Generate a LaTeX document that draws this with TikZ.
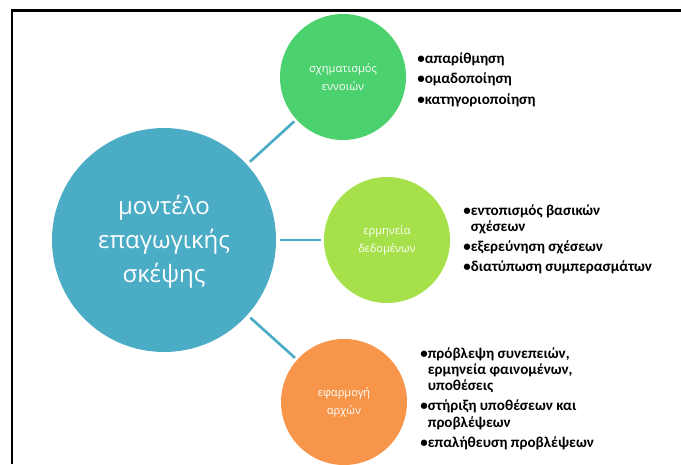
\documentclass[tikz,border=0pt]{standalone}
\usepackage{fontspec}
\setmainfont{Carlito}
\newfontfamily\circfont{Open Sans}
\begin{document}
\begin{tikzpicture}[x=.75pt,y=-.75pt,hub/.style={circle,fill=aqua,minimum size=168pt,inner sep=0pt,text=white,align=center,font=\circfont\fontsize{18}{25.5}\selectfont},leaf/.style={circle,minimum size=94.5pt,inner sep=0pt,text=white,align=center,font=\circfont\fontsize{8.3}{13.5}\selectfont},items/.style={anchor=north west,align=left,inner sep=0pt,font=\bfseries\fontsize{11.3}{12.2}\selectfont},link/.style={aqua,line width=2pt,shorten <=3pt,shorten >=2pt}]
\definecolor{aqua}{HTML}{4BACC6}\definecolor{leafgreen}{HTML}{4CD16F}\definecolor{lime}{HTML}{A6E14B}\definecolor{orng}{HTML}{F7964A}
\useasboundingbox (0,0) rectangle (681,464);\draw[line width=1.9pt] (12,464) |- (681,10.7);
\node[hub] (model) at (164,240) {\\[-8pt]μοντέλο\\επαγωγικής\\σκέψης};
\node[leaf,fill=leafgreen] (concept) at (343,77) {σχηματισμός\\εννοιών};\node[leaf,fill=lime] (data) at (387,240) {ερμηνεία\\δεδομένων};\node[leaf,fill=orng] (apply) at (344,402) {εφαρμογή\\αρχών};
\draw[link] (model)--(concept);\draw[link] (model)--(data);\draw[link] (model)--(apply);
\node[items,font=\bfseries\fontsize{11.3}{15.4}\selectfont] (conceptlist) at (417,52) {•απαρίθμηση\\•ομαδοποίηση\\•κατηγοριοποίηση};
\node[items] (datalist) at (463,204) {•εντοπισμός βασικών\\\phantom{•}σχέσεων\\[3pt]•εξερεύνηση σχέσεων\\[3pt]•διατύπωση συμπερασμάτων};
\node[items] (applylist) at (420,347) {•πρόβλεψη συνεπειών,\\\phantom{•}ερμηνεία φαινομένων,\\\phantom{•}υποθέσεις\\[3pt]•στήριξη υποθέσεων και\\\phantom{•}προβλέψεων\\[3pt]•επαλήθευση προβλέψεων};
\end{tikzpicture}
\end{document}
